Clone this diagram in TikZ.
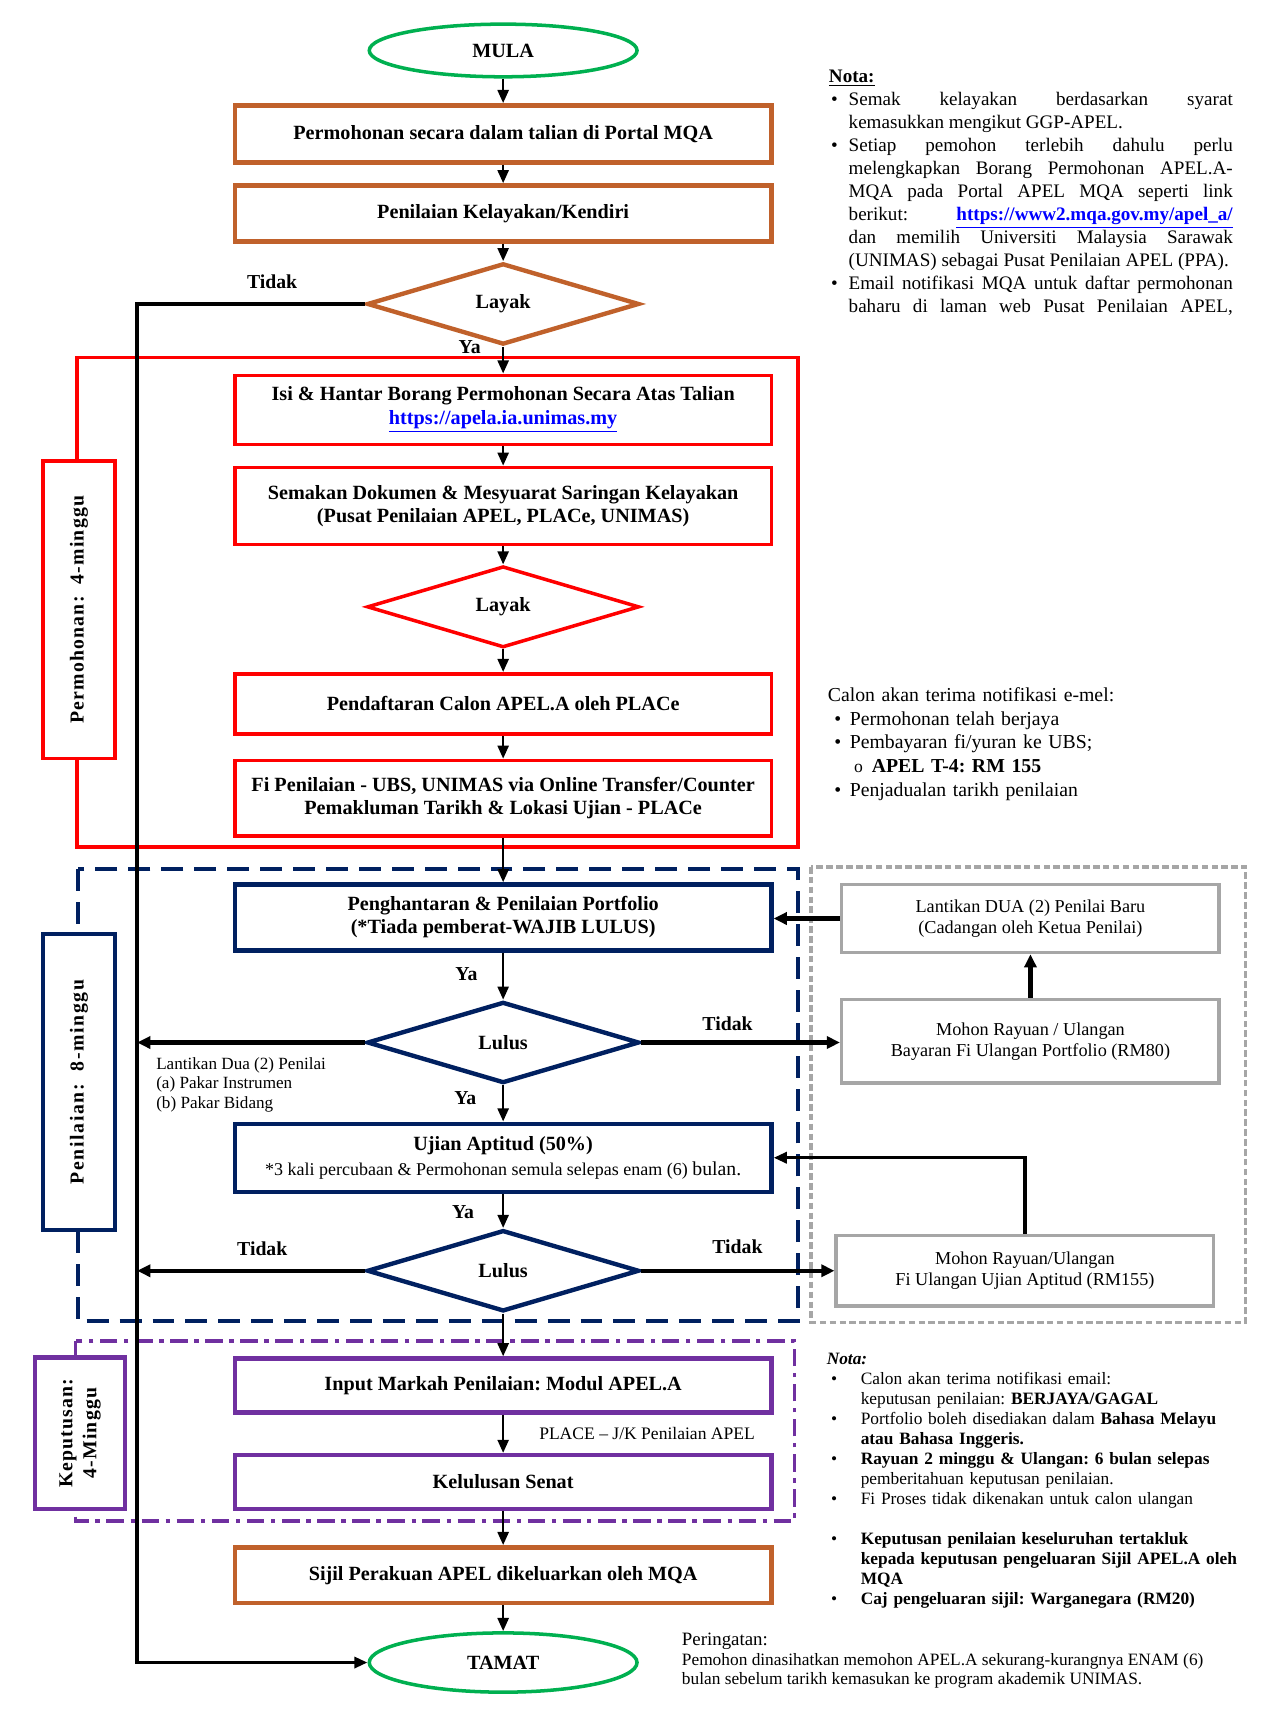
\documentclass[tikz,border=0pt]{standalone}
\usepackage{fontspec}
\setmainfont{Liberation Serif}
\frenchspacing
\usetikzlibrary{shapes.geometric,arrows.meta}
\definecolor{cbrown}{HTML}{C0612B}
\definecolor{cgreen}{HTML}{00B050}
\definecolor{cred}{HTML}{FF0000}
\definecolor{cnavy}{HTML}{002060}
\definecolor{cgrey}{HTML}{A6A6A6}
\definecolor{cpurple}{HTML}{7030A0}
\definecolor{clink}{HTML}{0000FF}
\newcommand\boxfont{\bfseries\fontsize{9.2}{10.5}\selectfont}
\newcommand\notebul[2][0pt]{\par\hangindent=#2\hangafter=1\noindent\makebox[#2][l]{\hspace*{#1}•}}
\tikzset{
  arr/.style={-{Triangle[length=6pt,width=5pt]}, line width=1.2pt},
  harr/.style={-{Triangle[length=6pt,width=5.5pt]}, line width=2pt},
  mainbox/.style={draw, fill=white, minimum width=244.5pt, align=center, inner sep=1pt, font=\boxfont},
  brownbox/.style={mainbox, draw=cbrown, line width=2pt},
  redbox/.style={mainbox, draw=cred, line width=1.6pt},
  navybox/.style={mainbox, draw=cnavy, line width=2pt},
  purplebox/.style={mainbox, draw=cpurple, line width=2pt},
  greybox/.style={draw=cgrey, fill=white, line width=1.6pt, minimum width=172pt, align=center, inner sep=1pt, font=\fontsize{8.3}{9.5}\selectfont},
  decide/.style={diamond, draw, fill=white, minimum width=124pt, minimum height=37pt, inner sep=0pt, font=\boxfont},
  term/.style={ellipse, draw=cgreen, line width=1.6pt, fill=white, minimum width=122pt, inner sep=0pt, font=\boxfont},
  sidebox/.style={draw, fill=white, rotate=90, align=center, inner sep=1pt, font=\bfseries\fontsize{9}{11}\selectfont\addfontfeature{LetterSpace=6}},
  lbl/.style={font=\bfseries\fontsize{9}{10}\selectfont, inner sep=0pt},
  small/.style={font=\fontsize{7.8}{9}\selectfont, inner sep=0pt, align=left},
}
\begin{document}
\begin{tikzpicture}[x=0.5pt,y=-0.5pt]
\useasboundingbox[fill=white] (0,0) rectangle (1150,1561);

% group frames
\draw[cred, line width=1.6pt] (70,326) rectangle (727,772);
\draw[cnavy, line width=1.6pt, dash pattern=on 10pt off 5pt] (71,792) rectangle (727,1204);
\draw[cgrey, line width=1.5pt, dash pattern=on 3pt off 1.5pt] (739,790) rectangle (1135,1205);
\draw[cpurple, line width=1.6pt, dash pattern=on 8pt off 3pt on 2pt off 3pt] (69,1222) rectangle (724,1386);

% side labels
\node[sidebox, draw=cred, line width=1.6pt, minimum width=135.5pt, minimum height=33pt] (sred) at (72,555.5) {Permohonan:\ \ 4-minggu};
\node[sidebox, draw=cnavy, line width=2pt, minimum width=135pt, minimum height=33pt, font=\bfseries\fontsize{9}{11}\selectfont\addfontfeature{LetterSpace=8}] (snavy) at (72,986) {Penilaian:\ \ 8-minggu};
\node[sidebox, draw=cpurple, line width=2pt, minimum width=69pt, minimum height=41pt] (spurple) at (73,1306) {Keputusan:\\4-Minggu};

% main flow
\node[term, minimum height=24pt] (mula) at (458.5,46) {MULA};
\node[brownbox, minimum height=26pt] (b1) at (458.5,122) {Permohonan secara dalam talian di Portal MQA};
\node[brownbox, minimum height=25.5pt] (b2) at (458.5,194.5) {Penilaian Kelayakan/Kendiri};
\node[decide, draw=cbrown, line width=2pt] (d1) at (458.5,277) {Layak};
\node[redbox, minimum height=31.5pt] (b3) at (458.5,373.5) {Isi \& Hantar Borang Permohonan Secara Atas Talian\\\textcolor{clink}{\underline{https://apela.ia.unimas.my}}};
\node[redbox, minimum height=35pt] (b4) at (458.5,461) {Semakan Dokumen \& Mesyuarat Saringan Kelayakan\\(Pusat Penilaian APEL, PLACe, UNIMAS)};
\node[decide, draw=cred, line width=1.6pt] (d2) at (458.5,553) {Layak};
\node[redbox, minimum height=27.5pt] (b5) at (458.5,641.5) {Pendaftaran Calon APEL.A oleh PLACe};
\node[redbox, minimum height=34.5pt] (b6) at (458.5,727.5) {Fi Penilaian - UBS, UNIMAS via Online Transfer/Counter\\Pemakluman Tarikh \& Lokasi Ujian - PLACe};
\node[navybox, minimum height=30pt] (b7) at (458.5,836) {Penghantaran \& Penilaian Portfolio\\(*Tiada pemberat-WAJIB LULUS)};
\node[decide, draw=cnavy, line width=2pt] (d3) at (458.5,950) {Lulus};
\node[navybox, minimum height=31pt] (b8) at (458.5,1055) {Ujian Aptitud (50\%)\\[1pt]{\mdseries\fontsize{8.2}{9}\selectfont *3 kali percubaan \& Permohonan semula selepas enam (6) \fontsize{9}{9}\selectfont bulan.}};
\node[decide, draw=cnavy, line width=2pt] (d4) at (458.5,1158) {Lulus};
\node[purplebox, minimum height=24.5pt] (b9) at (458.5,1262.5) {Input Markah Penilaian: Modul APEL.A};
\node[purplebox, minimum height=24.5pt] (b10) at (458.5,1350.5) {Kelulusan Senat};
\node[brownbox, minimum height=25.5pt] (b11) at (458.5,1435.5) {Sijil Perakuan APEL dikeluarkan oleh MQA};
\node[term, minimum height=27pt] (tamat) at (458.5,1515) {TAMAT};

% grey appeal boxes
\node[greybox, minimum height=31pt] (ga) at (939,837) {Lantikan DUA (2) Penilai Baru\\(Cadangan oleh Ketua Penilai)};
\node[greybox, minimum height=38pt] (gb) at (939,949) {Mohon Rayuan / Ulangan\\Bayaran Fi Ulangan Portfolio (RM80)};
\node[greybox, minimum height=32pt] (gc) at (934,1158) {Mohon Rayuan/Ulangan\\Fi Ulangan Ujian Aptitud (RM155)};

% coordinates for the left return line
\coordinate (lt) at (125,277);
\coordinate (lb) at (125,1515);
\coordinate (l3) at (125,950);
\coordinate (l4) at (125,1158);

% connectors
\draw[arr] (mula.south) -- (b1.north);
\draw[arr] (b1.south) -- (b2.north);
\draw[arr] (b2.south) -- (d1.north);
\draw[arr] (d1.south) -- (b3.north);
\draw[arr, line width=1.6pt] (d1.west) -- (lt) -- (lb) -- (tamat.west);
\draw[arr] (b3.south) -- (b4.north);
\draw[arr] (b4.south) -- (d2.north);
\draw[arr] (d2.south) -- (b5.north);
\draw[arr] (b5.south) -- (b6.north);
\draw[arr] (b6.south) -- (b7.north);
\draw[arr] (b7.south) -- (d3.north);
\draw[harr] (d3.west) -- (l3);
\draw[harr] (d3.east) -- (d3.east -| gb.west);
\draw[arr] (d3.south) -- (b8.north);
\draw[arr] (b8.south) -- (d4.north);
\draw[harr] (d4.west) -- (l4);
\draw[harr] (d4.east) -- (d4.east -| gc.west);
\draw[arr] (d4.south) -- (b9.north);
\draw[arr] (b9.south) -- (b10.north);
\draw[arr] (b10.south) -- (b11.north);
\draw[arr] (b11.south) -- (tamat.north);
\draw[harr] (gb.north) -- (ga.south);
\draw[harr] (ga.west) -- (ga.west -| b7.east);
\draw[arr, line width=1.6pt] (gc.north) |- (b8.east);

% connector labels
\node[lbl] (t1) at (248,257) {Tidak};
\node[lbl] (y1) at (428,316) {Ya};
\node[lbl] (y2) at (425,888) {Ya};
\node[lbl] (t2) at (663,933) {Tidak};
\node[lbl] (y3) at (424,1001) {Ya};
\node[lbl] (y4) at (422,1105) {Ya};
\node[lbl] (t3) at (239,1138) {Tidak};
\node[lbl] (t4) at (672,1136) {Tidak};
\node[small, anchor=north west] (lant) at (142,963) {Lantikan Dua (2) Penilai\\(a) Pakar Instrumen\\(b) Pakar Bidang};
\node[small, anchor=west, font=\fontsize{8}{9}\selectfont] (place) at (491,1306) {PLACE – J/K Penilaian APEL};

% top right notes
\node[anchor=north west, inner sep=0pt, text width=184pt, align=justify, font=\fontsize{8.7}{10.5}\selectfont] (nota1) at (755,63) {%
\setlength\parindent{0pt}\hyphenpenalty=10000\exhyphenpenalty=10000\textbf{\underline{Nota:}}
\notebul[1pt]{9pt}Semak kelayakan berdasarkan syarat\linebreak kemasukkan mengikut GGP-APEL.
\notebul[1pt]{9pt}Setiap pemohon terlebih dahulu perlu\linebreak melengkapkan Borang Permohonan APEL.A-\linebreak MQA pada Portal APEL MQA seperti link\linebreak berikut: \textcolor{clink}{\textbf{\underline{https://www2.mqa.gov.my/apel\_a/}}}\linebreak dan memilih Universiti Malaysia Sarawak\linebreak (UNIMAS) sebagai Pusat Penilaian APEL (PPA).
\notebul[1pt]{9pt}Email notifikasi MQA untuk daftar permohonan\linebreak baharu di laman web Pusat Penilaian APEL,{\parfillskip=0pt\par}};

% middle right notes
\node[anchor=north west, inner sep=0pt, text width=190pt, font=\fontsize{9}{10.8}\selectfont] (nota2) at (754,626) {%
\setlength\parindent{0pt}Calon akan terima notifikasi e-mel:
\notebul[3pt]{10pt}Permohonan telah berjaya
\notebul[3pt]{10pt}Pembayaran fi/yuran ke UBS;
\par\hspace*{12pt}\makebox[8pt][l]{\fontsize{8}{8}\selectfont o}\textbf{APEL T-4: RM 155}
\notebul[3pt]{10pt}Penjadualan tarikh penilaian\par};

% bottom right notes
\node[anchor=north west, inner sep=0pt, text width=190pt, font=\fontsize{7.9}{9.1}\selectfont] (nota3) at (753,1233) {%
\setlength\parindent{0pt}\raggedright\textbf{\textit{Nota:}}
\notebul[2pt]{15.5pt}Calon akan terima notifikasi email:\newline keputusan penilaian: \textbf{BERJAYA/GAGAL}
\notebul[2pt]{15.5pt}Portfolio boleh disediakan dalam \textbf{Bahasa Melayu}\newline\textbf{atau Bahasa Inggeris.}
\notebul[2pt]{15.5pt}\textbf{Rayuan 2 minggu \& Ulangan: 6 bulan selepas}\newline pemberitahuan keputusan penilaian.
\notebul[2pt]{15.5pt}Fi Proses tidak dikenakan untuk calon ulangan
\par\vspace{9.1pt}
\notebul[2pt]{15.5pt}\textbf{Keputusan penilaian keseluruhan tertakluk}\newline\textbf{kepada keputusan pengeluaran Sijil APEL.A oleh}\newline\textbf{MQA}
\notebul[2pt]{15.5pt}\textbf{Caj pengeluaran sijil: Warganegara (RM20)}\par};

% warning
\node[anchor=north west, inner sep=0pt, align=left, font=\fontsize{7.9}{8.8}\selectfont] (warn) at (621,1488) {{\fontsize{8.6}{8.8}\selectfont Peringatan:}\\Pemohon dinasihatkan memohon APEL.A sekurang-kurangnya ENAM (6)\\bulan sebelum tarikh kemasukan ke program akademik UNIMAS.};
\end{tikzpicture}
\end{document}
